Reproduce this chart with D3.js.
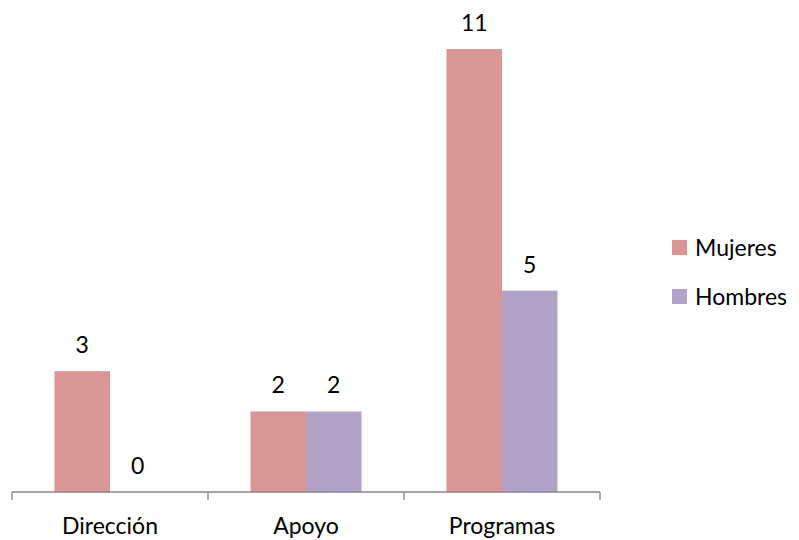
<!DOCTYPE html>
<html>
<head>
<meta charset="utf-8">
<script src="https://cdn.jsdelivr.net/npm/d3@7"></script>
<style>
  html, body { margin: 0; padding: 0; background: #fff; }
  svg { display: block; }
  text { font-family: Lato, "Open Sans", sans-serif; fill: #000; }
</style>
</head>
<body>
<svg id="chart" width="799" height="540"></svg>
<script>
// Personal por área y sexo
const categories = ["Dirección", "Apoyo", "Programas"];
const seriesNames = ["Mujeres", "Hombres"];
const mujeres = [3, 2, 11];
const hombres = [0, 2, 5];
const colors = ["#D99694", "#B3A2C7"];

const fontSize = "23px";
const svg = d3.select("#chart");
const plot = { left: 12, right: 600, top: 49, bottom: 492 };

const x0 = d3.scaleBand().domain(categories).range([plot.left, plot.right]).padding(0);
const groupW = 111;
const x1 = d3.scaleBand().domain(seriesNames)
  .range([(x0.bandwidth() - groupW) / 2, (x0.bandwidth() + groupW) / 2]).padding(0);
const y = d3.scaleLinear().domain([0, 11]).range([plot.bottom, plot.top]);

const values = [mujeres, hombres];
const rows = categories.map((c, i) => ({
  cat: c,
  vals: seriesNames.map((s, j) => ({ series: s, value: values[j][i], color: colors[j] }))
}));

const groups = svg.append("g").selectAll("g").data(rows).join("g")
  .attr("transform", d => `translate(${x0(d.cat)},0)`);

groups.selectAll("rect").data(d => d.vals).join("rect")
  .attr("x", d => x1(d.series))
  .attr("y", d => y(d.value))
  .attr("width", x1.bandwidth())
  .attr("height", d => y(0) - y(d.value))
  .attr("fill", d => d.color);

groups.selectAll("text.val").data(d => d.vals).join("text")
  .attr("class", "val")
  .attr("x", d => x1(d.series) + x1.bandwidth() / 2)
  .attr("y", d => y(d.value) - 18)
  .attr("text-anchor", "middle")
  .style("font-size", fontSize)
  .text(d => d.value);

// Category axis with ticks between groups
const axisG = svg.append("g").attr("transform", `translate(0,${plot.bottom})`);
axisG.append("line")
  .attr("x1", plot.left).attr("x2", plot.right)
  .attr("stroke", "#868686").attr("stroke-width", 1.3);
const tickPos = categories.map(c => x0(c)).concat([x0(categories[categories.length - 1]) + x0.bandwidth()]);
axisG.selectAll("line.tick").data(tickPos).join("line")
  .attr("class", "tick")
  .attr("x1", d => d).attr("x2", d => d)
  .attr("y1", 0).attr("y2", 8)
  .attr("stroke", "#868686").attr("stroke-width", 1.3);
axisG.selectAll("text").data(categories).join("text")
  .attr("x", d => x0(d) + x0.bandwidth() / 2)
  .attr("y", 42)
  .attr("text-anchor", "middle")
  .style("font-size", fontSize)
  .text(d => d);

// Legend
const legend = svg.append("g").attr("transform", "translate(672,240)");
const items = legend.selectAll("g").data(seriesNames).join("g")
  .attr("transform", (d, i) => `translate(0,${i * 49})`);
items.append("rect").attr("width", 15).attr("height", 15)
  .attr("fill", (d, i) => colors[i]);
items.append("text").attr("x", 23).attr("y", 15.5)
  .style("font-size", fontSize)
  .text(d => d);
</script>
</body>
</html>
